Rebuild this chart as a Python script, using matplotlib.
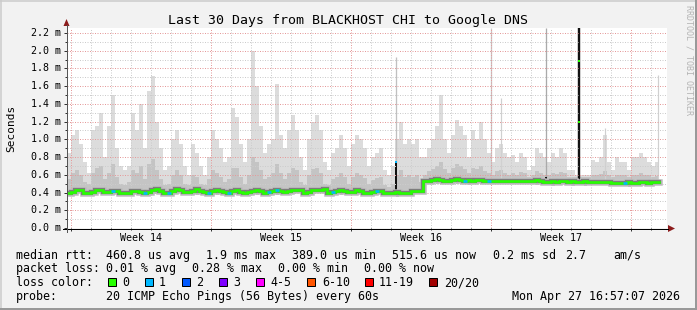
"""
Smokeping style 30 day latency chart, BLACKHOST CHI -> Google DNS.
Values read off the reference picture, one column per 0.2 day.
"""
import numpy as np
import matplotlib
matplotlib.use("Agg")
import matplotlib.pyplot as plt
from matplotlib.patches import Rectangle, Polygon

W, H = 697, 310
STEP_DAYS = 0.2
MONO = "DejaVu Sans Mono"

# highest ping per column (ms)
rtt_max = [
    0.85, 1.05, 1.10, 0.95, 0.75, 0.62, 1.10, 1.15, 1.30, 0.80,
    1.15, 1.50, 0.90, 0.70, 0.65, 0.70, 1.30, 1.10, 1.40, 0.90,
    1.55, 1.71, 1.20, 0.90, 0.65, 0.70, 1.00, 1.10, 0.95, 0.70,
    0.60, 0.95, 0.85, 0.70, 0.60, 0.80, 1.10, 1.00, 0.90, 0.75,
    0.80, 1.35, 1.25, 0.95, 0.75, 1.00, 2.00, 1.60, 1.15, 0.85,
    0.95, 1.00, 1.62, 1.05, 0.90, 1.10, 1.27, 1.10, 0.80, 0.65,
    1.00, 1.20, 1.28, 1.10, 0.75, 0.65, 0.85, 0.90, 1.05, 0.90,
    0.70, 0.95, 1.05, 1.00, 0.90, 0.70, 0.80, 0.85, 0.90, 0.65,
    0.60, 0.70, 1.00, 1.20, 0.95, 1.00, 0.95, 1.00, 0.80, 0.80,
    0.90, 1.00, 1.15, 1.50, 1.00, 0.85, 1.05, 1.22, 1.15, 1.05,
    0.80, 1.10, 1.00, 1.20, 1.00, 0.85, 0.75, 0.90, 0.95, 0.85,
    0.80, 0.82, 0.75, 0.85, 0.80, 0.65, 0.70, 0.90, 0.85, 0.80,
    0.75, 0.85, 0.80, 0.90, 0.85, 0.65, 0.65, 0.60, 0.60, 0.60,
    0.60, 0.77, 0.75, 0.80, 1.05, 0.75, 0.65, 0.80, 0.75, 0.75,
    0.65, 0.80, 0.80, 0.85, 0.80, 0.75, 0.70, 0.75,
]

# top of the denser (middle) smoke per column (ms)
rtt_mid = [
    0.55, 0.62, 0.65, 0.60, 0.52, 0.50, 0.62, 0.68, 0.70, 0.55,
    0.62, 0.72, 0.58, 0.50, 0.48, 0.52, 0.65, 0.62, 0.70, 0.55,
    0.72, 0.78, 0.65, 0.55, 0.48, 0.50, 0.60, 0.65, 0.60, 0.50,
    0.48, 0.60, 0.58, 0.50, 0.48, 0.55, 0.65, 0.62, 0.58, 0.52,
    0.55, 0.68, 0.68, 0.58, 0.50, 0.60, 0.80, 0.75, 0.65, 0.55,
    0.58, 0.62, 0.72, 0.62, 0.55, 0.62, 0.68, 0.65, 0.52, 0.48,
    0.60, 0.66, 0.68, 0.62, 0.50, 0.48, 0.55, 0.58, 0.62, 0.58,
    0.50, 0.58, 0.62, 0.60, 0.56, 0.50, 0.54, 0.56, 0.58, 0.48,
    0.46, 0.50, 0.60, 0.65, 0.58, 0.60, 0.58, 0.60, 0.52, 0.60,
    0.64, 0.66, 0.70, 0.75, 0.66, 0.62, 0.68, 0.72, 0.70, 0.66,
    0.62, 0.68, 0.66, 0.70, 0.64, 0.62, 0.60, 0.64, 0.65, 0.62,
    0.60, 0.62, 0.60, 0.63, 0.62, 0.58, 0.60, 0.64, 0.62, 0.60,
    0.60, 0.62, 0.61, 0.63, 0.62, 0.58, 0.58, 0.57, 0.57, 0.57,
    0.57, 0.60, 0.60, 0.61, 0.64, 0.60, 0.58, 0.60, 0.60, 0.60,
    0.58, 0.60, 0.60, 0.62, 0.60, 0.60, 0.58, 0.59,
]

# median rtt per column (ms)
rtt_median = [
    0.400, 0.410, 0.430, 0.430, 0.400, 0.395, 0.410, 0.430, 0.430, 0.410,
    0.410, 0.415, 0.420, 0.400, 0.395, 0.395, 0.420, 0.420, 0.410, 0.400,
    0.410, 0.430, 0.435, 0.420, 0.400, 0.400, 0.420, 0.435, 0.430, 0.410,
    0.410, 0.420, 0.435, 0.420, 0.410, 0.395, 0.420, 0.430, 0.420, 0.410,
    0.400, 0.420, 0.430, 0.410, 0.400, 0.405, 0.420, 0.430, 0.420, 0.400,
    0.410, 0.420, 0.430, 0.420, 0.405, 0.415, 0.425, 0.430, 0.425, 0.400,
    0.410, 0.430, 0.430, 0.430, 0.440, 0.400, 0.410, 0.420, 0.425, 0.420,
    0.410, 0.410, 0.425, 0.420, 0.400, 0.400, 0.410, 0.420, 0.420, 0.395,
    0.390, 0.400, 0.410, 0.390, 0.400, 0.400, 0.420, 0.420, 0.415, 0.530,
    0.535, 0.540, 0.550, 0.540, 0.535, 0.535, 0.545, 0.550, 0.540, 0.535,
    0.540, 0.535, 0.540, 0.545, 0.530, 0.530, 0.530, 0.535, 0.530, 0.535,
    0.530, 0.530, 0.525, 0.535, 0.535, 0.530, 0.535, 0.540, 0.525, 0.520,
    0.520, 0.525, 0.520, 0.525, 0.525, 0.520, 0.525, 0.520, 0.520, 0.525,
    0.515, 0.520, 0.520, 0.515, 0.515, 0.515, 0.510, 0.510, 0.510, 0.510,
    0.515, 0.510, 0.510, 0.515, 0.515, 0.510, 0.515, 0.515,
]

# columns where 1 of 20 pings was lost
loss_one_cols = [11, 19, 25, 35, 40, 50, 52, 66, 77, 99, 105, 139]

# single thin outlier columns (day, low ms, high ms)
spike_day = [16.45, 21.20, 21.70, 23.95, 25.60, 26.90, 29.55]
spike_low = [0.42, 0.53, 0.53, 0.52, 0.52, 0.52, 0.52]
spike_high = [1.93, 2.26, 1.47, 2.26, 2.26, 1.13, 1.73]
spike_shade = ["#c0c0c0", "#c8c8c8", "#d0d0d0", "#aaaaaa", "#111111", "#d0d0d0", "#d0d0d0"]
spike_px = [1.3, 1.3, 1.2, 1.3, 2.4, 1.2, 1.2]

# dark smoke stubs
stub_day = [16.45, 23.95]
stub_low = [0.42, 0.50]
stub_high = [0.76, 0.57]

# odd median readings inside the outlier columns
blip_day = [16.45, 25.60, 25.60]
blip_val = [0.75, 1.88, 1.20]
blip_loss = [1, 0, 0]

y_ticks = [0.0, 0.2, 0.4, 0.6, 0.8, 1.0, 1.2, 1.4, 1.6, 1.8, 2.0, 2.2]
week_names = ["Week 14", "Week 15", "Week 16", "Week 17"]

loss_labels = ["0", "1", "2", "3", "4-5", "6-10", "11-19", "20/20"]
loss_colors = ["#26ff00", "#00b8ff", "#0059ff", "#7e00ff",
               "#ff00ff", "#ff5500", "#ff0000", "#a10000"]

title = "Last 30 Days from BLACKHOST CHI to Google DNS"
# legend rows as (x pixel, text) pieces, placed like rrdtool does
row_rtt = [(16, "median rtt:"), (106.5, "460.8 us avg"), (205.5, "1.9 ms max"),
           (292.5, "389.0 us min"), (392.5, "515.6 us now"), (493, "0.2 ms sd"),
           (565.5, "2.7"), (613, "am/s")]
row_loss = [(16, "packet loss:"), (106.5, "0.01 % avg"), (192.5, "0.28 % max"),
            (278.5, "0.00 % min"), (364.5, "0.00 % now")]
row_probe = [(16, "probe:"), (106.5, "20 ICMP Echo Pings (56 Bytes) every 60s")]
stamp = "Mon Apr 27 16:57:07 2026"


def px(n):
    # pixels -> points at dpi 100
    return n * 0.72


fig = plt.figure(figsize=(W / 100, H / 100), dpi=100, facecolor="#f2f2f2")

# plot area in pixels: x 66.5..666.5, y 28..228
ax = fig.add_axes([66.5 / W, (H - 228) / H, 600 / W, 200 / H], zorder=2)
ax.set_facecolor("white")
ax.set_xlim(0, 30)
ax.set_ylim(0, 200 / 88.65)
for s in ax.spines.values():
    s.set_visible(False)

n = len(rtt_median)
t = np.arange(n + 1) * STEP_DAYS
med = np.array(rtt_median + [rtt_median[-1]])
hi = np.array(rtt_max + [rtt_max[-1]])
mid = np.array(rtt_mid + [rtt_mid[-1]])

# smoke
ax.fill_between(t, med, hi, step="post", color="#dcdcdc", lw=0, zorder=1)
ax.fill_between(t, med, mid, step="post", color="#c4c4c4", lw=0, zorder=1.1)
for d, lo, hg, c, w in zip(spike_day, spike_low, spike_high, spike_shade, spike_px):
    ax.vlines(d, lo, hg, colors=c, lw=px(w), zorder=1.2)
ax.vlines(stub_day, stub_low, stub_high, colors="#111111", lw=px(2), zorder=1.3)

# grid on top of the smoke
dot = (0, (1, 1.5))
week_lines = [0.225 + 7 * k for k in range(5)]
day_lines = [0.225 + k for k in range(30) if k % 7 != 0]
for d in day_lines:
    ax.axvline(d, color="#cccccc", lw=px(1), ls=dot, zorder=2)
for y in np.arange(1, 23, 2) / 10:
    ax.axhline(y, color="#cccccc", lw=px(1), ls=dot, zorder=2)
for d in week_lines:
    ax.axvline(d, color="#e59a9a", lw=px(1), ls=dot, zorder=2.1)
for y in y_ticks[1:]:
    ax.axhline(y, color="#e59a9a", lw=px(1), ls=dot, zorder=2.1)

# median line with its dark halo
ax.step(t, med, where="post", color="#bdbdbd", lw=px(6.5), zorder=3,
        solid_joinstyle="miter")
ax.step(t, med, where="post", color="#7d7d7d", lw=px(4.2), zorder=3.1,
        solid_joinstyle="miter")
ax.step(t, med, where="post", color=loss_colors[0], lw=px(2.6), zorder=3.2,
        solid_joinstyle="miter")
for c in loss_one_cols:
    ax.hlines(rtt_median[c], t[c], t[c + 1], color=loss_colors[1], lw=px(2.6), zorder=3.3)
for d, v, l in zip(blip_day, blip_val, blip_loss):
    ax.hlines(v, d - 0.05, d + 0.05, color=loss_colors[l], lw=px(2), zorder=3.4)

# ticks
ax.set_xticks(week_lines)
ax.set_xticks([0.225 + k for k in range(30)], minor=True)
ax.set_yticks(y_ticks)
ax.set_yticks(np.arange(1, 23, 2) / 10, minor=True)
ax.tick_params(which="both", direction="out", color="#333333", width=px(1),
               labelbottom=False, labelleft=False)
ax.tick_params(which="major", length=px(3))
ax.tick_params(which="minor", length=px(2))

# overlay in pixel coordinates for axes, arrows and all text
ov = fig.add_axes([0, 0, 1, 1], zorder=4)
ov.set_xlim(0, W)
ov.set_ylim(H, 0)
ov.patch.set_alpha(0)
ov.axis("off")

ov.plot([63, 668], [228.5, 228.5], color="black", lw=px(1))
ov.plot([66.5, 66.5], [232, 25], color="#555555", lw=px(1))
ov.add_patch(Polygon([[668, 225], [675, 228.5], [668, 232]], closed=True,
                     color="#8c1c1c", lw=0))
ov.add_patch(Polygon([[63.5, 26], [66.5, 19], [69.5, 26]], closed=True,
                     color="#8c1c1c", lw=0))

# frame shading
ov.plot([0, W], [0.75, 0.75], color="#cbcbcb", lw=px(1.5))
ov.plot([0.75, 0.75], [0, H], color="#cbcbcb", lw=px(1.5))
ov.plot([0, W], [H - 1, H - 1], color="#999999", lw=px(2))
ov.plot([W - 1, W - 1], [0, H], color="#999999", lw=px(2))

ov.text(348, 24, title, family=MONO, fontsize=9.5, ha="center", va="baseline")
ov.text(11, 128, "Seconds", family=MONO, fontsize=8, rotation=90,
        ha="center", va="center")
ov.text(689, 5, "RRDTOOL / TOBI OETIKER", family=MONO, fontsize=6,
        color="#b4b4b4", rotation=270, ha="center", va="top")

for v in y_ticks:
    ypix = 228 - v * 88.65
    ov.text(61, ypix, f"{v:.1f} m", family=MONO, fontsize=7.2,
            ha="right", va="center")

for k, name in enumerate(week_names):
    xpix = 66.5 + (3.725 + 7 * k) * 20
    ov.text(xpix, 241, name, family=MONO, fontsize=7.2, ha="center", va="baseline")

for ybase, pieces in [(258.7, row_rtt), (272.3, row_loss), (300, row_probe)]:
    for xpix, txt in pieces:
        ov.text(xpix, ybase, txt, family=MONO, fontsize=8.4, va="baseline")
ov.text(16, 286, "loss color:", family=MONO, fontsize=8.4, va="baseline")
ov.text(680, 300, stamp, family=MONO, fontsize=8.4, ha="right", va="baseline")

box_x = [108, 145, 182, 219, 256, 307, 365, 429]
label_x = [122, 159, 196, 233, 270, 322, 379, 444]
for bx, lx, lab, col in zip(box_x, label_x, loss_labels, loss_colors):
    ov.add_patch(Rectangle((bx, 278), 8, 8, facecolor=col, edgecolor="black",
                           lw=px(1)))
    ov.text(lx, 286, lab, family=MONO, fontsize=8.4, va="baseline")

fig.savefig("out.png", dpi=100, facecolor=fig.get_facecolor())
